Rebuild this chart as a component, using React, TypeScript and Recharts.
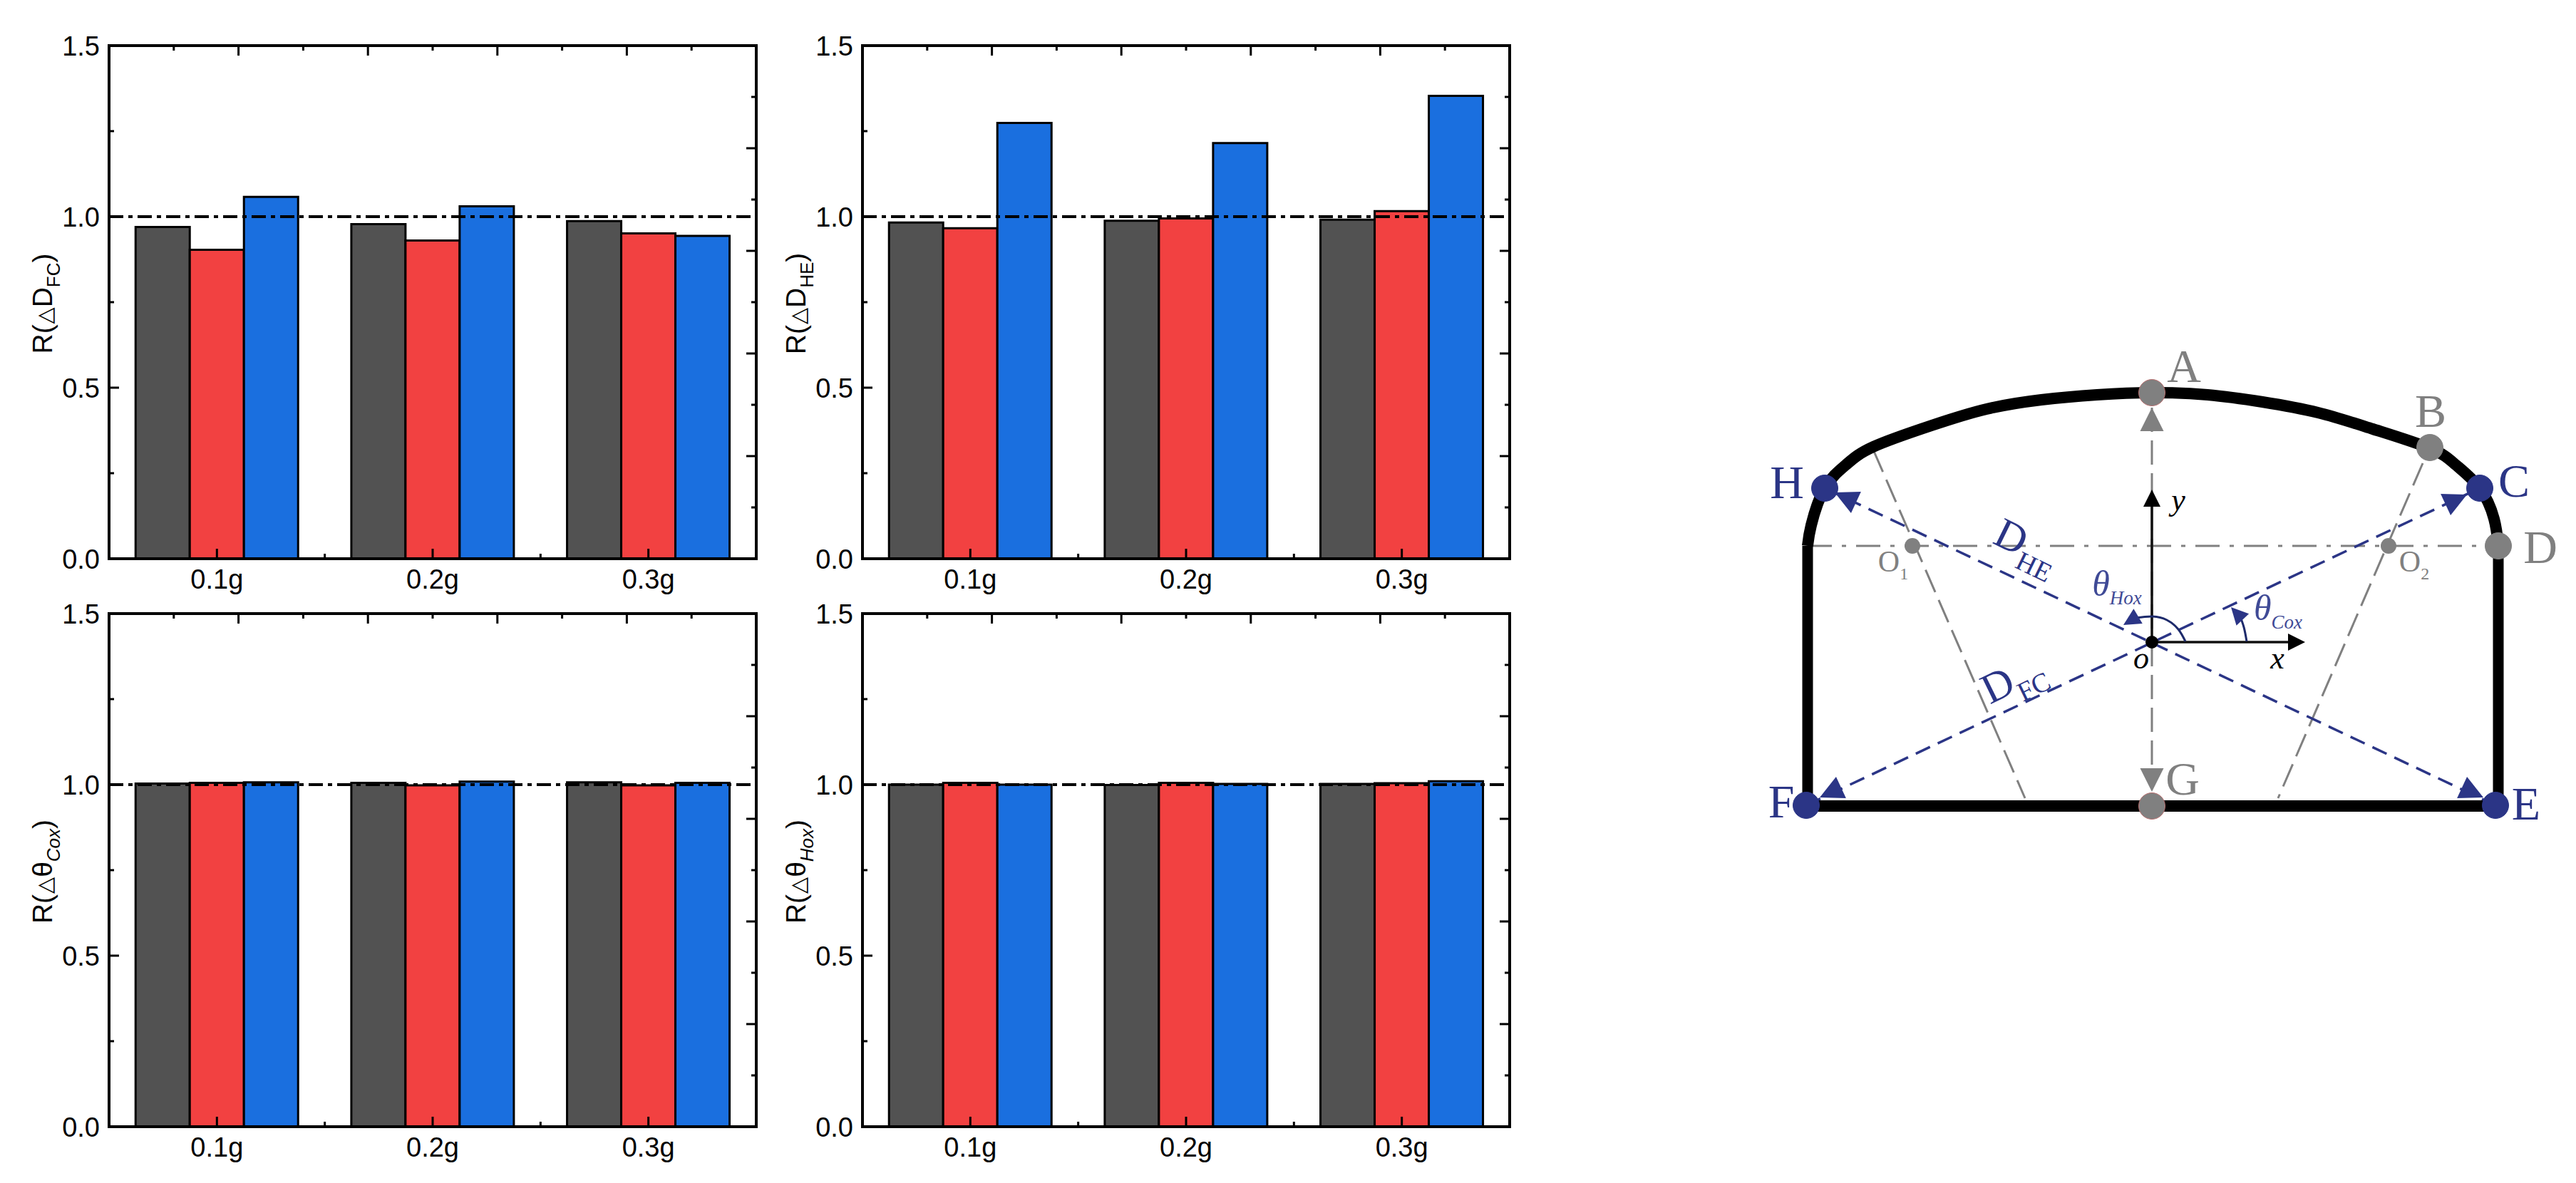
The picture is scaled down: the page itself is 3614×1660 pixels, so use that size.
import { Bar, ComposedChart, Label, Line, ReferenceDot, ReferenceLine, XAxis, YAxis } from "recharts";

const loads = ["0.1g", "0.2g", "0.3g"];

const dFcGray = [0.97, 0.978, 0.987];
const dFcRed = [0.903, 0.93, 0.951];
const dFcBlue = [1.058, 1.03, 0.944];

const dHeGray = [0.983, 0.988, 0.991];
const dHeRed = [0.966, 0.995, 1.016];
const dHeBlue = [1.274, 1.215, 1.353];

const coxGray = [1.003, 1.005, 1.007];
const coxRed = [1.005, 0.998, 0.998];
const coxBlue = [1.007, 1.009, 1.005];

const hoxGray = [1.0, 0.999, 1.002];
const hoxRed = [1.005, 1.005, 1.004];
const hoxBlue = [1.0, 1.002, 1.01];

const leftTicks = [0, 0.25, 0.5, 0.75, 1, 1.25, 1.5];
const frameTicks = [1, 2, 3, 4, 5, 6, 7, 8, 9];

// schematic, in picture coordinates
const wallLeft = [{ x: 2536, y: 1131 }, { x: 2536, y: 766 }];
const wallRight = [{ x: 3505, y: 766 }, { x: 3505, y: 1131 }];
const floor = [{ x: 2530, y: 1131 }, { x: 3511, y: 1131 }];
const roof = [
  { x: 2536, y: 766 }, { x: 2541, y: 737 }, { x: 2560, y: 685 }, { x: 2590, y: 652 }, { x: 2628, y: 627 },
  { x: 2710, y: 597 }, { x: 2787, y: 574 }, { x: 2864, y: 561 }, { x: 2942, y: 554 }, { x: 3019, y: 551 },
  { x: 3097, y: 554 }, { x: 3174, y: 564 }, { x: 3252, y: 579 }, { x: 3329, y: 602 }, { x: 3409, y: 629 },
  { x: 3445, y: 652 }, { x: 3479, y: 685 }, { x: 3499, y: 728 }, { x: 3505, y: 766 },
];
const hoxArc = [{ x: 3066, y: 900 }, { x: 3056, y: 883 }, { x: 3040, y: 870 }, { x: 3020, y: 865 }, { x: 2996, y: 867 }];
const coxArc = [{ x: 3152, y: 900 }, { x: 3148, y: 880 }, { x: 3142, y: 863 }];

const grayDashes = [
  [[3019, 572], [3019, 901]],
  [[3019, 901], [3019, 1100]],
  [[2628, 631], [2841, 1120]],
  [[3399, 650], [3196, 1120]],
];
const blueDashes = [
  [[2560, 685], [3501, 1130]],
  [[2534, 1130], [3479, 685]],
];
const grayNodes = [[3019, 551], [3409, 628], [3505, 766], [3019, 1131]];
const blueNodes = [[3479, 685], [3501, 1130], [2534, 1130], [2560, 685]];
const centres = [[2683, 766], [3351, 766]];

const arrows = [
  { x: 3234, y: 901, turn: 0, color: "#000", size: 24 },
  { x: 3019, y: 687, turn: -90, color: "#000", size: 24 },
  { x: 3019, y: 572, turn: -90, color: "#808080", size: 33 },
  { x: 3019, y: 1111, turn: 90, color: "#808080", size: 33 },
  { x: 2574, y: 691, turn: -155, color: "#2b3586", size: 33 },
  { x: 3461, y: 694, turn: -25, color: "#2b3586", size: 33 },
  { x: 2553, y: 1119, turn: 155, color: "#2b3586", size: 33 },
  { x: 3484, y: 1119, turn: 25, color: "#2b3586", size: 33 },
  { x: 2979, y: 877, turn: 149, color: "#2b3586", size: 24 },
  { x: 3130, y: 852, turn: -133, color: "#2b3586", size: 24 },
];

const letters = [
  { text: "A", x: 3064, y: 514, color: "#808080" },
  { text: "B", x: 3410, y: 577, color: "#808080" },
  { text: "C", x: 3527, y: 675, color: "#2b3586" },
  { text: "D", x: 3564, y: 768, color: "#808080" },
  { text: "E", x: 3544, y: 1128, color: "#2b3586" },
  { text: "F", x: 2499, y: 1125, color: "#2b3586" },
  { text: "G", x: 3062, y: 1093, color: "#808080" },
  { text: "H", x: 2507, y: 677, color: "#2b3586" },
];

const SERIF = "'Liberation Serif', serif";
const SANS = "'Liberation Sans', Arial, sans-serif";
const PLOT_W = 908;
const PLOT_H = 720;
const PAD_L = 153;
const PAD_T = 40;
const FRAME = { stroke: "#000", strokeWidth: 4, strokeLinecap: "square" as const };

function RightTick(p: any) {
  const len = p.payload.value % 2 === 0 ? 14 : 7;
  return (
    <g>
      <line x1={p.x} x2={p.x - len} y1={p.y} y2={p.y} stroke="#000" strokeWidth={3} />
    </g>
  );
}

function LeftTick(p: any) {
  const v = p.payload.value;
  const major = v % 0.5 === 0;
  return (
    <g>
      <line x1={p.x} x2={p.x + (major ? 14 : 7)} y1={p.y} y2={p.y} stroke="#000" strokeWidth={3} />
      {major && (
        <text x={p.x - 13} y={p.y + 14} textAnchor="end" fontSize={38} fontFamily={SANS} fill="#000">
          {v.toFixed(1)}
        </text>
      )}
    </g>
  );
}

function BottomTick(p: any) {
  const start = p.x - PLOT_W / 6;
  return (
    <g>
      {p.index < loads.length - 1 && (
        <line x1={p.x + PLOT_W / 6} x2={p.x + PLOT_W / 6} y1={p.y} y2={p.y - 7} stroke="#000" strokeWidth={3} />
      )}
      {/* the top axis only keeps one of its ticks, so the first category draws that row */}
      {p.index === 0 &&
        frameTicks.map((k) => (
          <line
            key={k}
            x1={start + (k * PLOT_W) / 10}
            x2={start + (k * PLOT_W) / 10}
            y1={p.y - PLOT_H}
            y2={p.y - PLOT_H + (k % 2 === 0 ? 14 : 7)}
            stroke="#000"
            strokeWidth={3}
          />
        ))}
      <text x={p.x} y={p.y + 42} textAnchor="middle" fontSize={38} fontFamily={SANS} fill="#000">
        {p.payload.value}
      </text>
    </g>
  );
}

// the major bottom ticks sit over the bars, so they are drawn after them
function barTick(p: any) {
  return <line x1={p.cx} x2={p.cx} y1={p.cy} y2={p.cy - 14} stroke="#000" strokeWidth={3} />;
}

function titleContent(symbol: string, sub: string, italic: boolean) {
  return () => (
    <text
      transform={`translate(${PAD_L - 80},${PAD_T + 362}) rotate(-90)`}
      textAnchor="middle"
      fontSize={39}
      fontFamily={SANS}
      fill="#000"
    >
      R(
      <tspan fontSize={30} fontFamily="'DejaVu Sans'" dx={1}>△</tspan>
      <tspan>{symbol}</tspan>
      <tspan fontSize={26} dy={11} fontStyle={italic ? "italic" : "normal"}>{sub}</tspan>
      <tspan dy={-11}>)</tspan>
    </text>
  );
}

function Panel({ left, top, gray, red, blue, symbol, sub, italic }: any) {
  const rows = loads.map((load, i) => ({ load, gray: gray[i], red: red[i], blue: blue[i] }));
  return (
    <div style={{ position: "absolute", left: left - PAD_L, top: top - PAD_T }}>
      <ComposedChart
        width={PAD_L + PLOT_W + 30}
        height={PAD_T + PLOT_H + 60}
        data={rows}
        barCategoryGap="12.3%"
        barGap={0}
        margin={{ left: 0, right: 29, top: PAD_T - 1, bottom: 0 }}
      >
        <XAxis dataKey="load" height={60} interval={0} tickSize={0} tickMargin={0} tickLine={false} tick={BottomTick} axisLine={FRAME} />
        <XAxis xAxisId="frame" orientation="top" type="number" domain={[0, 10]} height={1} tick={false} tickLine={false} axisLine={FRAME} />
        <YAxis width={PAD_L} domain={[0, 1.5]} ticks={leftTicks} interval={0} tickSize={0} tickMargin={0} tickLine={false} tick={LeftTick} axisLine={FRAME}>
          <Label content={titleContent(symbol, sub, italic)} />
        </YAxis>
        <YAxis
          yAxisId="frame"
          orientation="right"
          type="number"
          domain={[0, 10]}
          allowDataOverflow
          ticks={frameTicks}
          width={1}
          interval={0}
          tickSize={0}
          tickMargin={0}
          tickLine={false}
          tick={RightTick}
          axisLine={FRAME}
        />
        <Line xAxisId="frame" yAxisId="frame" dataKey={() => 0} stroke="none" dot={false} legendType="none" isAnimationActive={false} />
        <Bar dataKey="gray" fill="#525252" stroke="#000" strokeWidth={3} isAnimationActive={false} />
        <Bar dataKey="red" fill="#f24141" stroke="#000" strokeWidth={3} isAnimationActive={false} />
        <Bar dataKey="blue" fill="#1a6fdf" stroke="#000" strokeWidth={3} isAnimationActive={false} />
        <ReferenceLine y={1} stroke="#000" strokeWidth={4} strokeDasharray="20 7 6 7" ifOverflow="visible" />
        {loads.map((load) => (
          <ReferenceDot key={load} x={load} y={0} r={1} shape={barTick} />
        ))}
      </ComposedChart>
    </div>
  );
}

function seg(line: number[][]) {
  return line.map(([x, y]) => ({ x, y }));
}

function arrowShape(turn: number, color: string, size: number) {
  return (p: any) => (
    <polygon
      transform={`translate(${p.cx},${p.cy}) rotate(${turn})`}
      points={`0,0 ${-size},${-size * 0.5} ${-size},${size * 0.5}`}
      fill={color}
    />
  );
}

function scriptShape(main: string, sub: string, color: string, size: number, subSize: number, italic: boolean, rot = 0) {
  return (p: any) => (
    <text
      transform={`translate(${p.cx},${p.cy}) rotate(${rot})`}
      textAnchor="middle"
      fontFamily={SERIF}
      fontSize={size}
      fontStyle={italic ? "italic" : "normal"}
      fill={color}
    >
      {main}
      <tspan fontSize={subSize} dy={subSize * 0.45}>{sub}</tspan>
    </text>
  );
}

function Schematic() {
  return (
    <div style={{ position: "absolute", left: 2400, top: 0 }}>
      <ComposedChart width={1214} height={1660} data={[]} margin={{ left: 0, right: 0, top: 0, bottom: 0 }}>
        <XAxis dataKey="x" type="number" domain={[2400, 3614]} hide />
        <YAxis type="number" domain={[0, 1660]} reversed hide />
        <ReferenceLine
          segment={[{ x: 2536, y: 766 }, { x: 3505, y: 766 }]}
          stroke="#808080"
          strokeWidth={3}
          strokeDasharray="34 14 6 14"
        />
        {grayDashes.map((d, i) => (
          <ReferenceLine key={i} segment={seg(d)} stroke="#808080" strokeWidth={3} strokeDasharray="34 12" />
        ))}
        {blueDashes.map((d, i) => (
          <ReferenceLine key={i} segment={seg(d)} stroke="#2b3586" strokeWidth={3.5} strokeDasharray="22 12" />
        ))}
        <ReferenceLine segment={[{ x: 3019, y: 901 }, { x: 3215, y: 901 }]} stroke="#111" strokeWidth={3.5} />
        <ReferenceLine segment={[{ x: 3019, y: 901 }, { x: 3019, y: 705 }]} stroke="#111" strokeWidth={3.5} />
        <Line data={wallLeft} dataKey="y" stroke="#000" strokeWidth={15} dot={false} isAnimationActive={false} />
        <Line data={wallRight} dataKey="y" stroke="#000" strokeWidth={15} dot={false} isAnimationActive={false} />
        <Line data={floor} dataKey="y" stroke="#000" strokeWidth={16} dot={false} isAnimationActive={false} />
        <Line data={roof} dataKey="y" type="natural" stroke="#000" strokeWidth={16} dot={false} isAnimationActive={false} />
        <Line data={hoxArc} dataKey="y" type="natural" stroke="#1d2a6b" strokeWidth={3} dot={false} isAnimationActive={false} />
        <Line data={coxArc} dataKey="y" type="natural" stroke="#1d2a6b" strokeWidth={3} dot={false} isAnimationActive={false} />
        {arrows.map((a, i) => (
          <ReferenceDot key={i} x={a.x} y={a.y} r={1} shape={arrowShape(a.turn, a.color, a.size)} />
        ))}
        {grayNodes.map(([x, y], i) => (
          <ReferenceDot key={i} x={x} y={y} r={18.5} fill="#808080" stroke={i === 0 || i === 3 ? "#b87070" : "#808080"} strokeWidth={1} />
        ))}
        {blueNodes.map(([x, y], i) => (
          <ReferenceDot key={i} x={x} y={y} r={18.5} fill="#2b3586" stroke="#2b3586" strokeWidth={1} />
        ))}
        {centres.map(([x, y], i) => (
          <ReferenceDot key={i} x={x} y={y} r={11} fill="#808080" stroke="#808080" strokeWidth={0} />
        ))}
        <ReferenceDot x={3019} y={901} r={9} fill="#000" stroke="#000" strokeWidth={0} />
        {letters.map((l) => (
          <ReferenceDot key={l.text} x={l.x} y={l.y + 22} r={1} shape={scriptShape(l.text, "", l.color, 66, 10, false)} />
        ))}
        <ReferenceDot x={2656} y={802} r={1} shape={scriptShape("O", "1", "#808080", 42, 24, false)} />
        <ReferenceDot x={3387} y={802} r={1} shape={scriptShape("O", "2", "#808080", 42, 24, false)} />
        <ReferenceDot x={2836} y={782} r={1} shape={scriptShape("D", "HE", "#2b3586", 60, 38, false, 26)} />
        <ReferenceDot x={2832} y={969} r={1} shape={scriptShape("D", "FC", "#2b3586", 60, 38, false, -26)} />
        <ReferenceDot x={2970} y={836} r={1} shape={scriptShape("θ", "Hox", "#3f4a96", 50, 27, true)} />
        <ReferenceDot x={3196} y={870} r={1} shape={scriptShape("θ", "Cox", "#3f4a96", 50, 27, true)} />
        <ReferenceDot x={3004} y={938} r={1} shape={scriptShape("o", "", "#000", 44, 10, true)} />
        <ReferenceDot x={3195} y={938} r={1} shape={scriptShape("x", "", "#000", 44, 10, true)} />
        <ReferenceDot x={3056} y={716} r={1} shape={scriptShape("y", "", "#000", 44, 10, true)} />
      </ComposedChart>
    </div>
  );
}

export default function App() {
  return (
    <div style={{ position: "absolute", left: 0, top: 0, width: 3614, height: 1660, background: "#fff", overflow: "hidden" }}>
      <Panel left={153} top={63.5} gray={dFcGray} red={dFcRed} blue={dFcBlue} symbol="D" sub="FC" italic={false} />
      <Panel left={1210} top={63.5} gray={dHeGray} red={dHeRed} blue={dHeBlue} symbol="D" sub="HE" italic={false} />
      <Panel left={153} top={861} gray={coxGray} red={coxRed} blue={coxBlue} symbol="θ" sub="Cox" italic={true} />
      <Panel left={1210} top={861} gray={hoxGray} red={hoxRed} blue={hoxBlue} symbol="θ" sub="Hox" italic={true} />
      <Schematic />
    </div>
  );
}
